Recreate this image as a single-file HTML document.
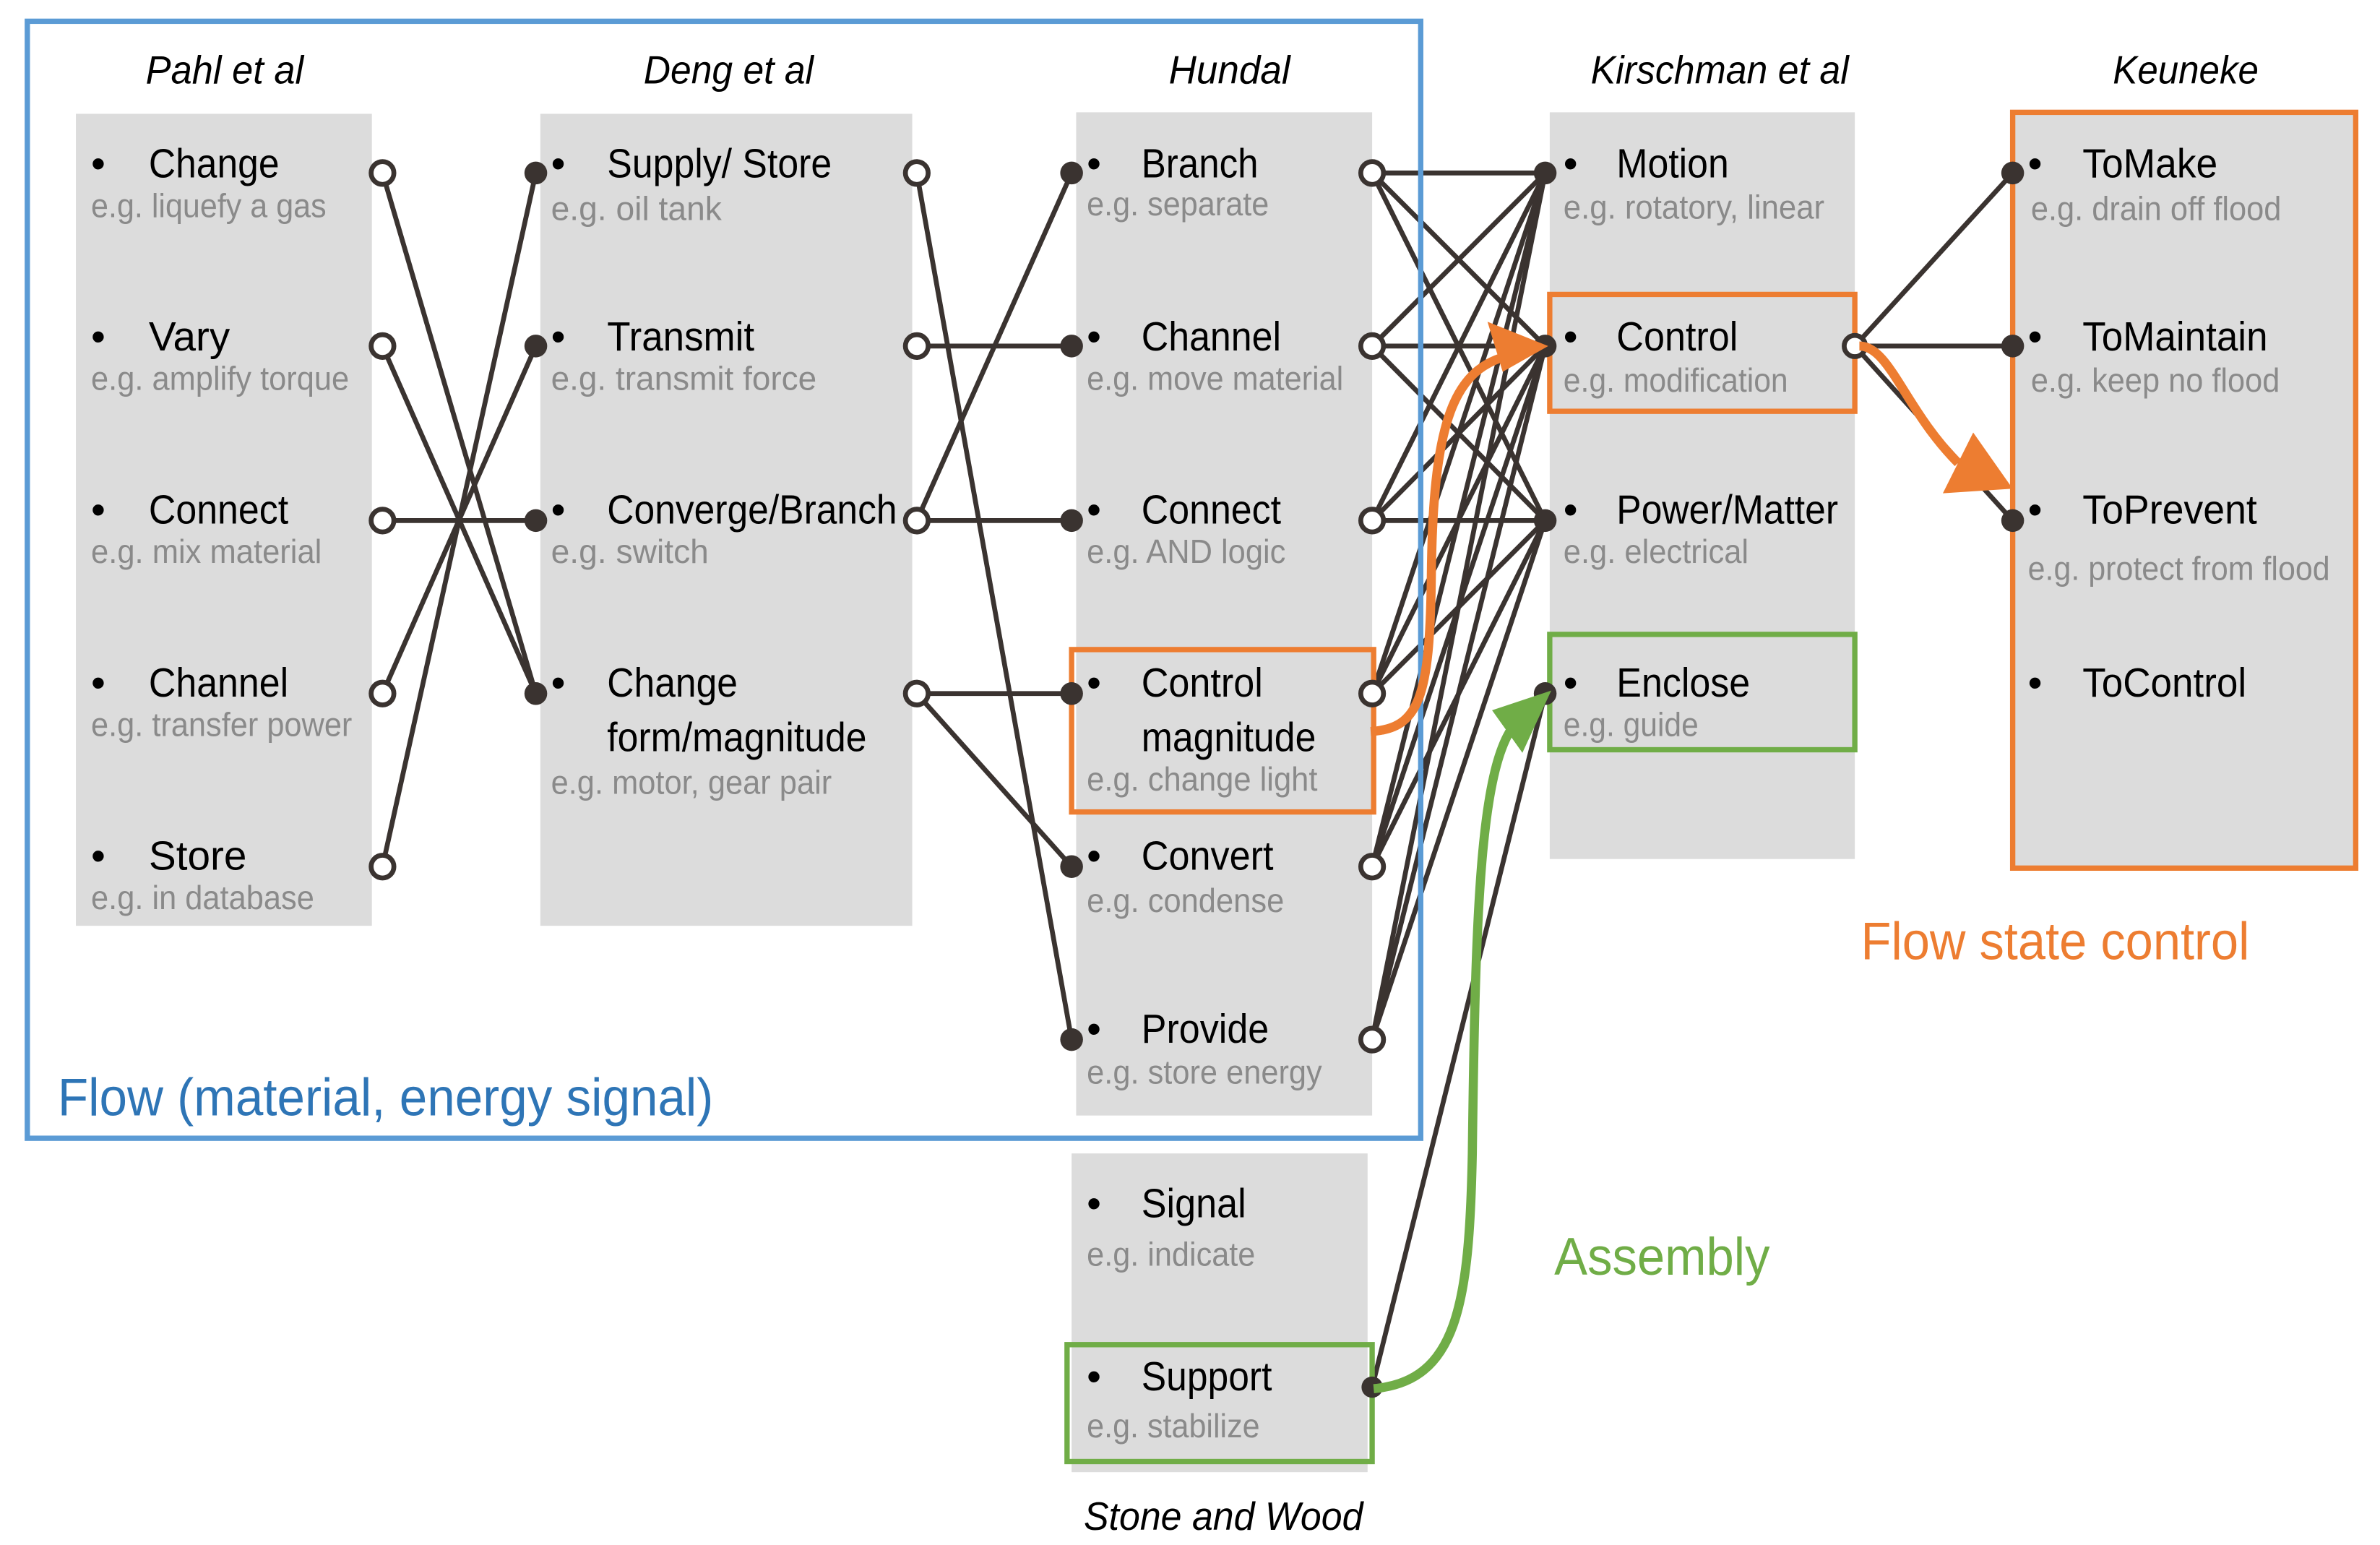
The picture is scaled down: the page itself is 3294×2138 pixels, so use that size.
<!DOCTYPE html>
<html><head><meta charset="utf-8"><style>
html,body{margin:0;padding:0;background:#fff;}
svg{display:block;}
text{font-family:"Liberation Sans",sans-serif;}
.t{font-size:27px;fill:#000;}
.e{font-size:22px;fill:#8a8a8a;}
.h{font-size:26px;font-style:italic;fill:#000;}
.l{stroke:#3a3330;stroke-width:3.2;fill:none;}
.o{fill:#fff;stroke:#3a3330;stroke-width:3.2;}
.f{fill:#3a3330;}
</style></head><body>
<svg width="3294" height="2138" viewBox="0 0 1568 1018" preserveAspectRatio="none" xmlns="http://www.w3.org/2000/svg">
<rect x="50" y="75" width="195" height="535" fill="#dcdcdc"/>
<rect x="356" y="75" width="245" height="535" fill="#dcdcdc"/>
<rect x="709" y="74" width="195" height="661" fill="#dcdcdc"/>
<rect x="706" y="760" width="195" height="210" fill="#dcdcdc"/>
<rect x="1021" y="74" width="201" height="492" fill="#dcdcdc"/>
<rect x="1326" y="74" width="226" height="498" fill="#dcdcdc"/>

<text class="h" x="148" y="55" text-anchor="middle" textLength="104" lengthAdjust="spacingAndGlyphs">Pahl et al</text>
<text class="h" x="480" y="55" text-anchor="middle" textLength="112" lengthAdjust="spacingAndGlyphs">Deng et al</text>
<text class="h" x="810" y="55" text-anchor="middle" textLength="80" lengthAdjust="spacingAndGlyphs">Hundal</text>
<text class="h" x="1133" y="55" text-anchor="middle" textLength="170" lengthAdjust="spacingAndGlyphs">Kirschman et al</text>
<text class="h" x="1440" y="55" text-anchor="middle" textLength="96" lengthAdjust="spacingAndGlyphs">Keuneke</text>
<text class="h" x="806" y="1008" text-anchor="middle" textLength="184" lengthAdjust="spacingAndGlyphs">Stone and Wood</text>

<g>
<text class="t" x="60" y="117">•</text><text class="t" x="98" y="117" textLength="86" lengthAdjust="spacingAndGlyphs">Change</text><text class="e" x="60" y="143" textLength="155" lengthAdjust="spacingAndGlyphs">e.g. liquefy a gas</text>
<text class="t" x="60" y="231">•</text><text class="t" x="98" y="231">Vary</text><text class="e" x="60" y="257" textLength="170" lengthAdjust="spacingAndGlyphs">e.g. amplify torque</text>
<text class="t" x="60" y="345">•</text><text class="t" x="98" y="345" textLength="92" lengthAdjust="spacingAndGlyphs">Connect</text><text class="e" x="60" y="371" textLength="152" lengthAdjust="spacingAndGlyphs">e.g. mix material</text>
<text class="t" x="60" y="459">•</text><text class="t" x="98" y="459" textLength="92" lengthAdjust="spacingAndGlyphs">Channel</text><text class="e" x="60" y="485" textLength="172" lengthAdjust="spacingAndGlyphs">e.g. transfer power</text>
<text class="t" x="60" y="573">•</text><text class="t" x="98" y="573">Store</text><text class="e" x="60" y="599" textLength="147" lengthAdjust="spacingAndGlyphs">e.g. in database</text>
</g>
<g>
<text class="t" x="363" y="117">•</text><text class="t" x="400" y="117" textLength="148" lengthAdjust="spacingAndGlyphs">Supply/ Store</text><text class="e" x="363" y="145">e.g. oil tank</text>
<text class="t" x="363" y="231">•</text><text class="t" x="400" y="231" textLength="97" lengthAdjust="spacingAndGlyphs">Transmit</text><text class="e" x="363" y="257" textLength="175" lengthAdjust="spacingAndGlyphs">e.g. transmit force</text>
<text class="t" x="363" y="345">•</text><text class="t" x="400" y="345" textLength="191" lengthAdjust="spacingAndGlyphs">Converge/Branch</text><text class="e" x="363" y="371">e.g. switch</text>
<text class="t" x="363" y="459">•</text><text class="t" x="400" y="459" textLength="86" lengthAdjust="spacingAndGlyphs">Change</text><text class="t" x="400" y="495" textLength="171" lengthAdjust="spacingAndGlyphs">form/magnitude</text><text class="e" x="363" y="523" textLength="185" lengthAdjust="spacingAndGlyphs">e.g. motor, gear pair</text>
</g>
<g>
<text class="t" x="716" y="117">•</text><text class="t" x="752" y="117" textLength="77" lengthAdjust="spacingAndGlyphs">Branch</text><text class="e" x="716" y="142" textLength="120" lengthAdjust="spacingAndGlyphs">e.g. separate</text>
<text class="t" x="716" y="231">•</text><text class="t" x="752" y="231" textLength="92" lengthAdjust="spacingAndGlyphs">Channel</text><text class="e" x="716" y="257" textLength="169" lengthAdjust="spacingAndGlyphs">e.g. move material</text>
<text class="t" x="716" y="345">•</text><text class="t" x="752" y="345" textLength="92" lengthAdjust="spacingAndGlyphs">Connect</text><text class="e" x="716" y="371" textLength="131" lengthAdjust="spacingAndGlyphs">e.g. AND logic</text>
<text class="t" x="716" y="459">•</text><text class="t" x="752" y="459" textLength="80" lengthAdjust="spacingAndGlyphs">Control</text><text class="t" x="752" y="495" textLength="115" lengthAdjust="spacingAndGlyphs">magnitude</text><text class="e" x="716" y="521" textLength="152" lengthAdjust="spacingAndGlyphs">e.g. change light</text>
<text class="t" x="716" y="573">•</text><text class="t" x="752" y="573" textLength="87" lengthAdjust="spacingAndGlyphs">Convert</text><text class="e" x="716" y="601" textLength="130" lengthAdjust="spacingAndGlyphs">e.g. condense</text>
<text class="t" x="716" y="687">•</text><text class="t" x="752" y="687" textLength="84" lengthAdjust="spacingAndGlyphs">Provide</text><text class="e" x="716" y="714" textLength="155" lengthAdjust="spacingAndGlyphs">e.g. store energy</text>
<text class="t" x="716" y="802">•</text><text class="t" x="752" y="802" textLength="69" lengthAdjust="spacingAndGlyphs">Signal</text><text class="e" x="716" y="834" textLength="111" lengthAdjust="spacingAndGlyphs">e.g. indicate</text>
<text class="t" x="716" y="916">•</text><text class="t" x="752" y="916" textLength="86" lengthAdjust="spacingAndGlyphs">Support</text><text class="e" x="716" y="947" textLength="114" lengthAdjust="spacingAndGlyphs">e.g. stabilize</text>
</g>
<g>
<text class="t" x="1030" y="117">•</text><text class="t" x="1065" y="117" textLength="74" lengthAdjust="spacingAndGlyphs">Motion</text><text class="e" x="1030" y="144" textLength="172" lengthAdjust="spacingAndGlyphs">e.g. rotatory, linear</text>
<text class="t" x="1030" y="231">•</text><text class="t" x="1065" y="231" textLength="80" lengthAdjust="spacingAndGlyphs">Control</text><text class="e" x="1030" y="258" textLength="148" lengthAdjust="spacingAndGlyphs">e.g. modification</text>
<text class="t" x="1030" y="345">•</text><text class="t" x="1065" y="345" textLength="146" lengthAdjust="spacingAndGlyphs">Power/Matter</text><text class="e" x="1030" y="371" textLength="122" lengthAdjust="spacingAndGlyphs">e.g. electrical</text>
<text class="t" x="1030" y="459">•</text><text class="t" x="1065" y="459" textLength="88" lengthAdjust="spacingAndGlyphs">Enclose</text><text class="e" x="1030" y="485" textLength="89" lengthAdjust="spacingAndGlyphs">e.g. guide</text>
</g>
<g>
<text class="t" x="1336" y="117">•</text><text class="t" x="1372" y="117" textLength="89" lengthAdjust="spacingAndGlyphs">ToMake</text><text class="e" x="1338" y="145" textLength="165" lengthAdjust="spacingAndGlyphs">e.g. drain off flood</text>
<text class="t" x="1336" y="231">•</text><text class="t" x="1372" y="231" textLength="122" lengthAdjust="spacingAndGlyphs">ToMaintain</text><text class="e" x="1338" y="258" textLength="164" lengthAdjust="spacingAndGlyphs">e.g. keep no flood</text>
<text class="t" x="1336" y="345">•</text><text class="t" x="1372" y="345" textLength="115" lengthAdjust="spacingAndGlyphs">ToPrevent</text><text class="e" x="1336" y="382" textLength="199" lengthAdjust="spacingAndGlyphs">e.g. protect from flood</text>
<text class="t" x="1336" y="459">•</text><text class="t" x="1372" y="459" textLength="108" lengthAdjust="spacingAndGlyphs">ToControl</text>
</g>

<g class="l">
<line x1="252" y1="114" x2="353" y2="457"/>
<line x1="252" y1="228" x2="353" y2="457"/>
<line x1="252" y1="343" x2="353" y2="343"/>
<line x1="252" y1="457" x2="353" y2="228"/>
<line x1="252" y1="571" x2="353" y2="114"/>

<line x1="604" y1="114" x2="706" y2="685"/>
<line x1="604" y1="228" x2="706" y2="228"/>
<line x1="604" y1="343" x2="706" y2="114"/>
<line x1="604" y1="343" x2="706" y2="343"/>
<line x1="604" y1="457" x2="706" y2="457"/>
<line x1="604" y1="457" x2="706" y2="571"/>

<line x1="904" y1="114" x2="1018" y2="114"/><line x1="904" y1="114" x2="1018" y2="228"/><line x1="904" y1="114" x2="1018" y2="343"/>
<line x1="904" y1="228" x2="1018" y2="114"/><line x1="904" y1="228" x2="1018" y2="228"/><line x1="904" y1="228" x2="1018" y2="343"/>
<line x1="904" y1="343" x2="1018" y2="114"/><line x1="904" y1="343" x2="1018" y2="228"/><line x1="904" y1="343" x2="1018" y2="343"/>
<line x1="904" y1="457" x2="1018" y2="114"/><line x1="904" y1="457" x2="1018" y2="228"/><line x1="904" y1="457" x2="1018" y2="343"/>
<line x1="904" y1="571" x2="1018" y2="114"/><line x1="904" y1="571" x2="1018" y2="228"/><line x1="904" y1="571" x2="1018" y2="343"/>
<line x1="904" y1="685" x2="1018" y2="114"/><line x1="904" y1="685" x2="1018" y2="228"/><line x1="904" y1="685" x2="1018" y2="343"/>
<line x1="904" y1="914" x2="1018" y2="457"/>

<line x1="1222" y1="228" x2="1326" y2="114"/>
<line x1="1222" y1="228" x2="1326" y2="228"/>
<line x1="1222" y1="228" x2="1326" y2="343"/>
</g>

<rect x="18" y="14" width="918" height="736" fill="none" stroke="#5b9bd5" stroke-width="3.5"/>
<rect x="706" y="428" width="199" height="107" fill="none" stroke="#ed7d31" stroke-width="3.5"/>
<rect x="1021" y="194" width="201" height="77" fill="none" stroke="#ed7d31" stroke-width="3.5"/>
<rect x="1326" y="74" width="226" height="498" fill="none" stroke="#ed7d31" stroke-width="3.5"/>
<rect x="1021" y="418" width="201" height="76" fill="none" stroke="#70ad47" stroke-width="3.5"/>
<rect x="703" y="886" width="201" height="77" fill="none" stroke="#70ad47" stroke-width="3.5"/>

<g class="o">
<circle cx="252" cy="114" r="7.5"/><circle cx="252" cy="228" r="7.5"/><circle cx="252" cy="343" r="7.5"/><circle cx="252" cy="457" r="7.5"/><circle cx="252" cy="571" r="7.5"/>
<circle cx="604" cy="114" r="7.5"/><circle cx="604" cy="228" r="7.5"/><circle cx="604" cy="343" r="7.5"/><circle cx="604" cy="457" r="7.5"/>
<circle cx="904" cy="114" r="7.5"/><circle cx="904" cy="228" r="7.5"/><circle cx="904" cy="343" r="7.5"/><circle cx="904" cy="457" r="7.5"/><circle cx="904" cy="571" r="7.5"/><circle cx="904" cy="685" r="7.5"/>
<circle cx="1222" cy="228" r="7"/>
</g>
<g class="f">
<circle cx="353" cy="114" r="7.5"/><circle cx="353" cy="228" r="7.5"/><circle cx="353" cy="343" r="7.5"/><circle cx="353" cy="457" r="7.5"/>
<circle cx="706" cy="114" r="7.5"/><circle cx="706" cy="228" r="7.5"/><circle cx="706" cy="343" r="7.5"/><circle cx="706" cy="457" r="7.5"/><circle cx="706" cy="571" r="7.5"/><circle cx="706" cy="685" r="7.5"/>
<circle cx="1018" cy="114" r="7.5"/><circle cx="1018" cy="228" r="7.5"/><circle cx="1018" cy="343" r="7.5"/><circle cx="1018" cy="457" r="7.5"/>
<circle cx="1326" cy="114" r="7.5"/><circle cx="1326" cy="228" r="7.5"/><circle cx="1326" cy="343" r="7.5"/>
<circle cx="904" cy="914" r="7"/>
</g>

<path d="M903,482 C935,480 942,460 943,380 C944,270 960,240 1000,233" fill="none" stroke="#ed7d31" stroke-width="6"/>
<polygon points="1020,228 980,212 990,245" fill="#ed7d31"/>
<path d="M1225,228 C1245,228 1255,270 1290,305" fill="none" stroke="#ed7d31" stroke-width="6"/>
<polygon points="1326,322 1280,325 1300,285" fill="#ed7d31"/>
<path d="M905,915 C960,910 968,860 970,760 C972,600 975,500 1000,475" fill="none" stroke="#70ad47" stroke-width="6"/>
<polygon points="1022,455 983,468 1003,496" fill="#70ad47"/>

<text x="38" y="735" font-size="35" fill="#2e75b6" textLength="432" lengthAdjust="spacingAndGlyphs">Flow (material, energy signal)</text>
<text x="1226" y="632" font-size="35" fill="#ed7d31" textLength="256" lengthAdjust="spacingAndGlyphs">Flow state control</text>
<text x="1024" y="840" font-size="35" fill="#70ad47" textLength="142" lengthAdjust="spacingAndGlyphs">Assembly</text>
</svg>
</body></html>
